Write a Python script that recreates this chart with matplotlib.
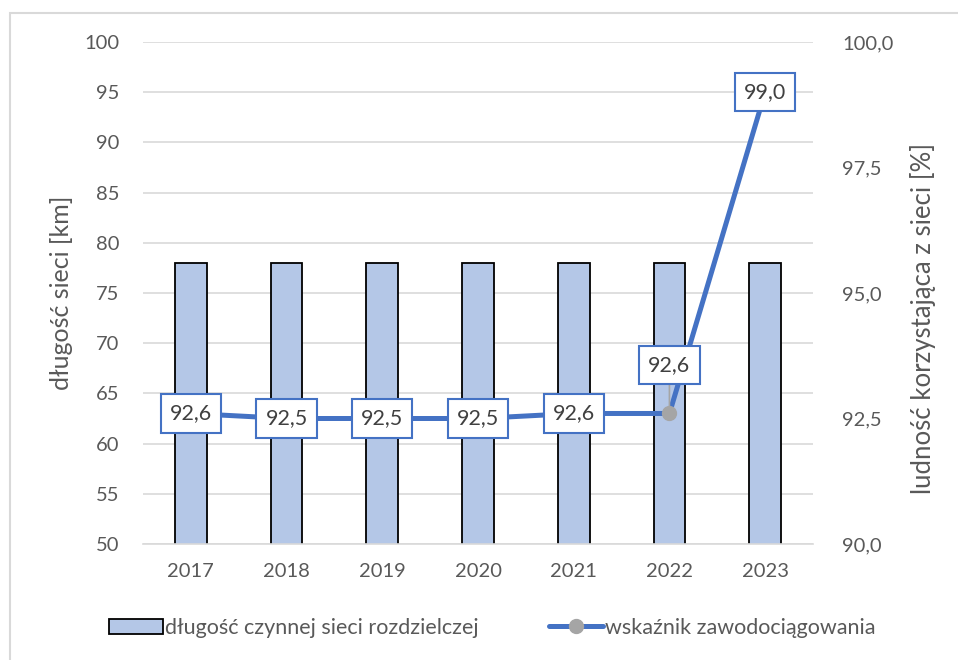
import matplotlib.pyplot as plt
from matplotlib.patches import Rectangle
from matplotlib.ticker import FuncFormatter

years = ['2017', '2018', '2019', '2020', '2021', '2022', '2023']
siec_km = [78, 78, 78, 78, 78, 78, 78]
wskaznik = [92.6, 92.5, 92.5, 92.5, 92.6, 92.6, 99.0]

grey = '#595959'
blue = '#4472C4'
plt.rcParams['font.family'] = ['Lato', 'DejaVu Sans']

fig = plt.figure(figsize=(9.58, 6.6), dpi=100)
ax = fig.add_axes([143 / 958, 116 / 660, 670 / 958, 502 / 660])
ax2 = ax.twinx()

x = list(range(len(years)))
bars = ax.bar(x, siec_km, width=0.33, color='#B4C7E7', edgecolor='black',
              linewidth=1.3, zorder=2, label='długość czynnej sieci rozdzielczej')
ax.set_ylim(50, 100)
ax.set_yticks(range(50, 101, 5))
ax.set_xlim(-0.5, len(years) - 0.5)
ax.set_xticks(x)
ax.set_xticklabels(years)
ax.grid(axis='y', color='#D9D9D9', linewidth=1.2, zorder=0)
ax.set_axisbelow(True)
ax.tick_params(length=0, labelsize=14.5, colors=grey)
ax.tick_params(axis='x', pad=14)
ax.tick_params(axis='y', pad=17)
for s in ['top', 'left', 'right']:
    ax.spines[s].set_visible(False)
ax.spines['bottom'].set_color('#D9D9D9')
ax.spines['bottom'].set_linewidth(1.2)
ax.set_ylabel('długość sieci [km]', fontsize=18, color=grey, labelpad=8)

line, = ax2.plot(x, wskaznik, color=blue, linewidth=3.6, marker='o',
                 markevery=[5], markersize=10, markerfacecolor='#A5A5A5',
                 markeredgecolor='#A5A5A5', zorder=3, label='wskaźnik zawodociągowania',
                 solid_capstyle='round')
ax2.set_ylim(90, 100)
ax2.set_yticks([90, 92.5, 95, 97.5, 100])
ax2.yaxis.set_major_formatter(FuncFormatter(lambda v, p: f'{v:.1f}'.replace('.', ',')))
ax2.tick_params(length=0, labelsize=14.5, colors=grey, pad=21)
for s in ['top', 'left', 'right', 'bottom']:
    ax2.spines[s].set_visible(False)
ax2.set_ylabel('ludność korzystająca z sieci [%]', fontsize=18.5, color=grey, labelpad=12)
ax2.yaxis.label.set_y(0.45)

box = dict(boxstyle='square,pad=0.42', facecolor='white', edgecolor=blue, linewidth=1.5)
for i, v in enumerate(wskaznik):
    txt = f'{v:.1f}'.replace('.', ',')
    if i == 5:
        ax2.annotate(txt, (i, v), xytext=(i, v + 0.96), ha='center', va='center',
                     fontsize=15.5, color='#404040', bbox=box, zorder=5,
                     arrowprops=dict(arrowstyle='-', color='#A5A5A5', lw=1.2,
                                     shrinkA=0, shrinkB=0))
    else:
        ax2.text(i, v, txt, ha='center', va='center', fontsize=15.5, color='#404040',
                 bbox=box, zorder=5)

leg = fig.legend(handles=[bars, line], loc='center', bbox_to_anchor=(0.514, 32 / 660),
                 ncol=2, frameon=False, fontsize=15.5, handlelength=2.5,
                 columnspacing=3.3, handletextpad=0.1)
for t in leg.get_texts():
    t.set_color(grey)

fig.patches.append(Rectangle((10 / 958, -0.1), 1.1, (660 - 13) / 660 + 0.1,
                             transform=fig.transFigure, fill=False,
                             edgecolor='#D9D9D9', linewidth=1.5))

fig.savefig('out.png', dpi=100)
